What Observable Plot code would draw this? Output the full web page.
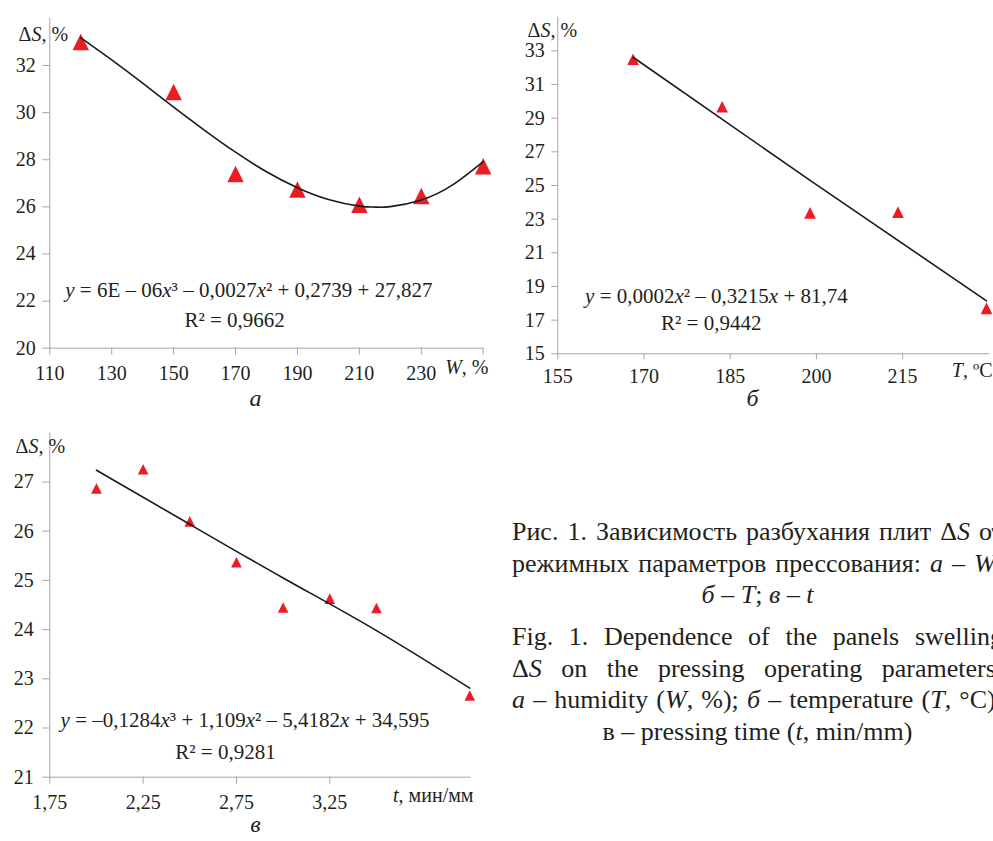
<!DOCTYPE html>
<html>
<head>
<meta charset="utf-8">
<script src="https://cdn.jsdelivr.net/npm/d3@7"></script>
<script src="https://cdn.jsdelivr.net/npm/@observablehq/plot@0.6"></script>
<style>
html, body { margin: 0; padding: 0; background: #fff; overflow: hidden; }
#root { position: relative; width: 993px; height: 841px; overflow: hidden; font-family: "Liberation Serif", "Times New Roman", serif; color: #231f20; background: #fff; }
.panel { position: absolute; }
.panel svg { overflow: visible; font-family: "Liberation Serif", "Times New Roman", serif !important; }
.panel svg text, .panel svg tspan { font-family: "Liberation Serif", "Times New Roman", serif !important; }
.panel svg text { fill: #231f20; }
.cap { position: absolute; left: 512px; width: 491px; font-size: 26px; line-height: 31.5px; }
.line { display: flex; justify-content: space-between; white-space: nowrap; height: 31.5px; }
.line.c { display: block; text-align: center; }
.gap { height: 10.5px; }
</style>
</head>
<body>
<div id="root"></div>
<script>
// ---------- data ----------
// panel а: swelling vs humidity W, %
const humidityW = [120, 150, 170, 190, 210, 230, 250];
const humidityDS = [33.0, 30.88, 27.39, 26.74, 26.09, 26.46, 27.72];
const humidityTrendW = [120, 130, 140, 150, 160, 170, 180, 190, 200, 210, 215, 220, 230, 240, 250];
const humidityTrendDS = [33.18, 32.24, 31.25, 30.23, 29.25, 28.32, 27.49, 26.81, 26.31, 26.03, 25.99, 26.01, 26.29, 26.92, 27.92];
const humidityXTicks = [110, 130, 150, 170, 190, 210, 230, 250];
const humidityXLabels = ["110", "130", "150", "170", "190", "210", "230", ""];
const humidityYTicks = [20, 22, 24, 26, 28, 30, 32];

// panel б: swelling vs temperature T, °C
const tempT = [168.1, 183.6, 198.9, 214.2, 229.6];
const tempDS = [32.5, 29.68, 23.37, 23.42, 17.7];
const tempTrendT = [168.1, 198.9, 229.6];
const tempTrendDS = [32.62, 25.3, 18.15];
const tempXTicks = [155, 170, 185, 200, 215];
const tempYTicks = [15, 17, 19, 21, 23, 25, 27, 29, 31, 33];

// panel в: swelling vs pressing time t, min/mm
const timeT = [2.0, 2.25, 2.5, 2.75, 3.0, 3.25, 3.5, 4.0];
const timeDS = [26.87, 27.26, 26.2, 25.37, 24.45, 24.63, 24.44, 22.66];
const timeTrendT = [2.0, 2.5, 3.0, 3.5, 4.0];
const timeTrendDS = [27.24, 26.14, 25.05, 23.98, 22.81];
const timeXTicks = [1.75, 2.25, 2.75, 3.25];
const timeXLabels = ["1,75", "2,25", "2,75", "3,25"];
const timeYTicks = [21, 22, 23, 24, 25, 26, 27];

// texts (underscores mark italic runs)
const yAxisLabel = "Δ_S_, %";
const xLabelA = "_W_, %";
const xLabelB = "_T_, ºC";
const xLabelC = "_t_, мин/мм";
const eqA = "_y_ = 6E – 06_x_³ – 0,0027_x_² + 0,2739 + 27,827";
const r2A = "R² = 0,9662";
const eqB = "_y_ = 0,0002_x_² – 0,3215_x_ + 81,74";
const r2B = "R² = 0,9442";
const eqC = "_y_ = –0,1284_x_³ + 1,109_x_² – 5,4182_x_ + 34,595";
const r2C = "R² = 0,9281";
const panelLabels = ["а", "б", "в"];

const captionRu = [
  "Рис. 1. Зависимость разбухания плит Δ<i>S</i> от",
  "режимных параметров прессования: <i>а</i> – <i>W</i>;",
  "<i>б</i> – <i>T</i>; <i>в</i> – <i>t</i>"
];
const captionEn = [
  "Fig. 1. Dependence of the panels swelling",
  "Δ<i>S</i> on the pressing operating parameters:",
  "<i>a</i> – humidity (<i>W</i>, %); <i>б</i> – temperature (<i>T</i>, °C);",
  "в – pressing time (<i>t</i>, min/mm)"
];

// ---------- helpers ----------
const zip = (xs, ys) => xs.map((x, i) => ({x, y: ys[i]}));
const RED = "#ec1c24";
const INK = "#1a1a1a";
const triangle = {
  draw(context, size) {
    const h = Math.sqrt(size);
    context.moveTo(0, -h / 2);
    context.lineTo(h / 2, h / 2);
    context.lineTo(-h / 2, h / 2);
    context.closePath();
  }
};
const baseStyle = "font-family: 'Liberation Serif', 'Times New Roman', serif; font-size: 20px; color: #a6a6a6; background: transparent; overflow: visible;";
const num = d => String(d);

function richify(svg) {
  svg.querySelectorAll("text").forEach(t => {
    const s = t.textContent;
    if (!s.includes("_")) return;
    while (t.firstChild) t.removeChild(t.firstChild);
    s.split("_").forEach((part, i) => {
      if (!part) return;
      const ts = document.createElementNS("http://www.w3.org/2000/svg", "tspan");
      ts.textContent = part;
      if (i % 2 === 1) ts.setAttribute("font-style", "italic");
      t.appendChild(ts);
    });
  });
}

function place(svg, left, top, width) {
  const div = document.createElement("div");
  div.className = "panel";
  div.style.left = left + "px";
  div.style.top = top + "px";
  div.style.width = width + "px";
  richify(svg);
  div.appendChild(svg);
  document.getElementById("root").appendChild(div);
}

// ---------- panel а ----------
const labA = new Map(humidityXTicks.map((d, i) => [d, humidityXLabels[i]]));
const plotA = Plot.plot({
  width: 500, height: 420,
  marginTop: 17.9, marginRight: 17.3, marginBottom: 72.3, marginLeft: 49.3,
  style: baseStyle,
  x: {domain: [110, 250], ticks: humidityXTicks, tickFormat: d => labA.get(d), tickSize: 7, tickPadding: 11, line: true, label: null},
  y: {domain: [20, 34], ticks: humidityYTicks, tickFormat: num, tickSize: 7, tickPadding: 7, line: true, label: null},
  marks: [
    Plot.dot(zip(humidityW, humidityDS), {x: "x", y: "y", r: 9.3, symbol: triangle, fill: RED, stroke: "none"}),
    Plot.line(zip(humidityTrendW, humidityTrendDS), {x: "x", y: "y", stroke: INK, strokeWidth: 1.6, curve: "natural"}),
    Plot.text([yAxisLabel], {frameAnchor: "top-left", textAnchor: "start", dx: -31.3, dy: 8, fontSize: 20}),
    Plot.text([xLabelA], {frameAnchor: "bottom-right", textAnchor: "end", dx: 5.3, dy: 26, fontSize: 20}),
    Plot.text([panelLabels[0]], {frameAnchor: "bottom", dx: -11, dy: 58, fontSize: 24, fontStyle: "italic"}),
    Plot.text([eqA], {x: () => 174.3, y: () => 22.45, fontSize: 21}),
    Plot.text([r2A], {x: () => 169.7, y: () => 21.18, fontSize: 21})
  ]
});
place(plotA, 0, 0, 500);

// ---------- panel б ----------
const plotB = Plot.plot({
  width: 493, height: 420,
  marginTop: 16.7, marginRight: 4.7, marginBottom: 66.7, marginLeft: 57.3,
  style: baseStyle,
  x: {domain: [155, 230], ticks: tempXTicks, tickFormat: num, tickSize: 6, tickPadding: 9, line: true, label: null},
  y: {domain: [15, 35], ticks: tempYTicks, tickFormat: num, tickSize: 6, tickPadding: 7, line: true, label: null},
  marks: [
    Plot.dot(zip(tempT, tempDS), {x: "x", y: "y", r: 6.6, symbol: triangle, fill: RED, stroke: "none"}),
    Plot.line(zip(tempTrendT, tempTrendDS), {x: "x", y: "y", stroke: INK, strokeWidth: 1.6, curve: "natural"}),
    Plot.text([yAxisLabel], {frameAnchor: "top-left", textAnchor: "start", dx: -30.3, dy: 6, fontSize: 20}),
    Plot.text([xLabelB], {frameAnchor: "bottom-right", textAnchor: "end", dx: 3.7, dy: 22.7, fontSize: 20}),
    Plot.text([panelLabels[1]], {frameAnchor: "bottom", dx: -20.8, dy: 51.7, fontSize: 24, fontStyle: "italic"}),
    Plot.text([eqB], {x: () => 182.6, y: () => 18.4, fontSize: 21}),
    Plot.text([r2B], {x: () => 181.7, y: () => 16.8, fontSize: 21})
  ]
});
place(plotB, 500, 0, 493);

// ---------- panel в ----------
const labC = new Map(timeXTicks.map((d, i) => [d, timeXLabels[i]]));
const plotC = Plot.plot({
  width: 500, height: 421,
  marginTop: 12.3, marginRight: 30.7, marginBottom: 64.3, marginLeft: 49.3,
  style: baseStyle,
  x: {domain: [1.75, 4.0], ticks: timeXTicks, tickFormat: d => labC.get(d), tickSize: 7, tickPadding: 10.5, line: true, label: null},
  y: {domain: [21, 28], ticks: timeYTicks, tickFormat: num, tickSize: 7, tickPadding: 9, line: true, label: null},
  marks: [
    Plot.dot(zip(timeT, timeDS), {x: "x", y: "y", r: 6.0, symbol: triangle, fill: RED, stroke: "none"}),
    Plot.line(zip(timeTrendT, timeTrendDS), {x: "x", y: "y", stroke: INK, strokeWidth: 1.6, curve: "natural"}),
    Plot.text([yAxisLabel], {frameAnchor: "top-left", textAnchor: "start", dx: -34.3, dy: 6.3, fontSize: 20}),
    Plot.text([xLabelC], {frameAnchor: "bottom-right", textAnchor: "end", dx: 3.7, dy: 25, fontSize: 20}),
    Plot.text([panelLabels[2]], {frameAnchor: "bottom", dx: -4.3, dy: 55, fontSize: 24, fontStyle: "italic"}),
    Plot.text([eqC], {x: () => 2.796, y: () => 22.15, fontSize: 21}),
    Plot.text([r2C], {x: () => 2.691, y: () => 21.5, fontSize: 21})
  ]
});
place(plotC, 0, 420, 500);

// ---------- caption ----------
function captionLine(html, centered) {
  const d = document.createElement("div");
  d.className = centered ? "line c" : "line";
  if (centered) {
    d.innerHTML = html;
  } else {
    html.split(" ").forEach(w => {
      const s = document.createElement("span");
      s.innerHTML = w;
      d.appendChild(s);
    });
  }
  return d;
}
const cap = document.createElement("div");
cap.className = "cap";
cap.style.top = "516px";
captionRu.forEach((l, i) => cap.appendChild(captionLine(l, i === captionRu.length - 1)));
const g = document.createElement("div"); g.className = "gap"; cap.appendChild(g);
captionEn.forEach((l, i) => cap.appendChild(captionLine(l, i === captionEn.length - 1)));
document.getElementById("root").appendChild(cap);
</script>
</body>
</html>
